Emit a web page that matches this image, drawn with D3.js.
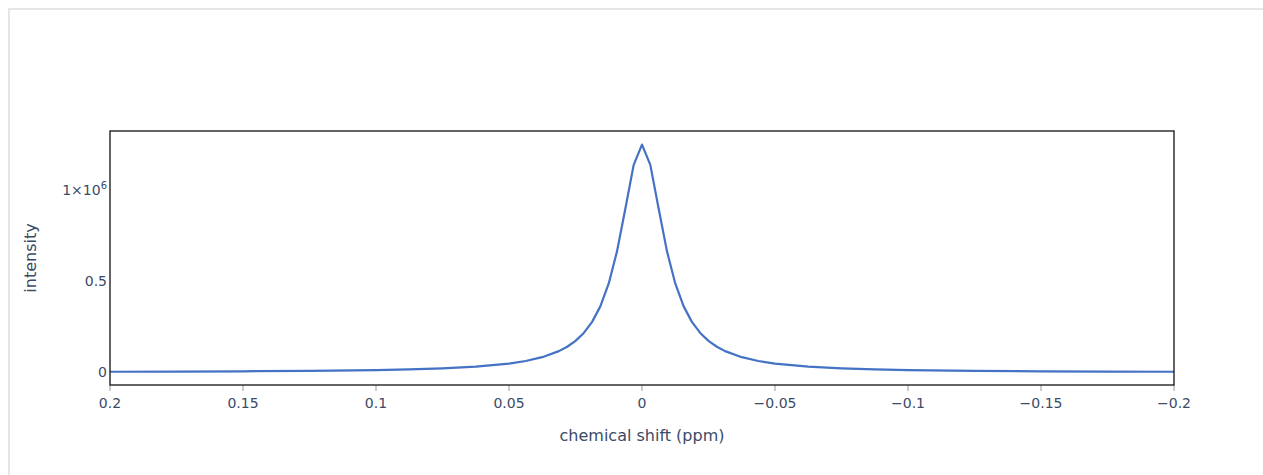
<!DOCTYPE html>
<html>
<head>
<meta charset="utf-8">
<script src="https://cdn.jsdelivr.net/npm/d3@7"></script>
<style>
  body { margin: 0; background: #fff; }
  .frame { position: absolute; left: 8px; top: 8px; width: 1300px; height: 520px;
           border-top: 2px solid #e6e6e6; border-left: 2px solid #e6e6e6; box-sizing: border-box; }
  svg { position: absolute; left: 0; top: 0; }
  text { font-family: "DejaVu Sans", Verdana, sans-serif; fill: #3b4b66; }
</style>
</head>
<body>
<div class="frame"></div>
<div class="canvas"></div>
<script>
// chemical shift (ppm) and intensity
var shifts = [0.2, 0.175, 0.15, 0.125, 0.1, 0.0875, 0.075, 0.0625, 0.05, 0.04375, 0.0375, 0.03125,
  0.028125, 0.025, 0.021875, 0.01875, 0.015625, 0.0125, 0.009375, 0.00625, 0.003125, 0,
  -0.003125, -0.00625, -0.009375, -0.0125, -0.015625, -0.01875, -0.021875, -0.025, -0.028125,
  -0.03125, -0.0375, -0.04375, -0.05, -0.0625, -0.075, -0.0875, -0.1, -0.125, -0.15, -0.175, -0.2];
var intensity = [3100, 4100, 5500, 7900, 12400, 16100, 21800, 31200, 48000, 62000, 82900, 116000,
  140200, 172300, 215900, 276600, 362900, 487400, 664700, 898200, 1137900, 1249000,
  1137900, 898200, 664700, 487400, 362900, 276600, 215900, 172300, 140200,
  116000, 82900, 62000, 48000, 31200, 21800, 16100, 12400, 7900, 5500, 4100, 3100];
var xTicks = [0.2, 0.15, 0.1, 0.05, 0, -0.05, -0.1, -0.15, -0.2];
var yTicks = [0, 500000, 1000000];

var pageWidth = 1263, pageHeight = 475;
var plot = {l:110, r:1174, t:131, b:385};

var svg = d3.select('.canvas')
    .append('svg')
    .attr('width', pageWidth)
    .attr('height', pageHeight);

var x = d3.scaleLinear().domain([0.2, -0.2]).range([plot.l, plot.r]);
var y = d3.scaleLinear().domain([-69700, 1323500]).range([plot.b, plot.t]);

// x ticks (outside, grey)
var xAxis = svg.append('g');
xTicks.forEach(function(t){
    xAxis.append('line')
        .attr('x1', x(t)).attr('x2', x(t))
        .attr('y1', plot.b).attr('y2', plot.b + 6)
        .attr('stroke', '#bbb').attr('stroke-width', 1.5);
    xAxis.append('text')
        .attr('x', x(t)).attr('y', plot.b + 23)
        .attr('text-anchor', 'middle')
        .style('font-size', '14px')
        .text(t === 0 ? '0' : d3.format('')(t).replace('-', '\u2212'));
});

// y tick labels
var yAxis = svg.append('g');
yTicks.forEach(function(t){
    var label = yAxis.append('text')
        .attr('x', plot.l - 3).attr('y', y(t) + 5)
        .attr('text-anchor', 'end')
        .style('font-size', '14px');
    if(t === 1000000){
        label.append('tspan').text('1\u00d710');
        label.append('tspan').attr('dy', -6).style('font-size', '10px').text('6');
    } else {
        label.text(t === 0 ? '0' : String(t / 1000000));
    }
});

// spectrum
var line = d3.line()
    .x(function(d, i){ return x(shifts[i]); })
    .y(function(d){ return y(d); });

svg.append('path')
    .datum(intensity)
    .attr('d', line)
    .attr('fill', 'none')
    .attr('stroke', '#4472c4')
    .attr('stroke-width', 2.2)
    .attr('stroke-linejoin', 'round');

// mirrored frame
svg.append('rect')
    .attr('x', plot.l).attr('y', plot.t)
    .attr('width', plot.r - plot.l).attr('height', plot.b - plot.t)
    .attr('fill', 'none')
    .attr('stroke', '#111').attr('stroke-width', 1.3);

// axis titles
svg.append('text')
    .attr('x', (plot.l + plot.r) / 2).attr('y', 441)
    .attr('text-anchor', 'middle')
    .style('font-size', '16px')
    .text('chemical shift (ppm)');

svg.append('text')
    .attr('transform', 'translate(36,' + (plot.t + plot.b) / 2 + ') rotate(-90)')
    .attr('text-anchor', 'middle')
    .style('font-size', '16px')
    .text('intensity');
</script>
</body>
</html>
